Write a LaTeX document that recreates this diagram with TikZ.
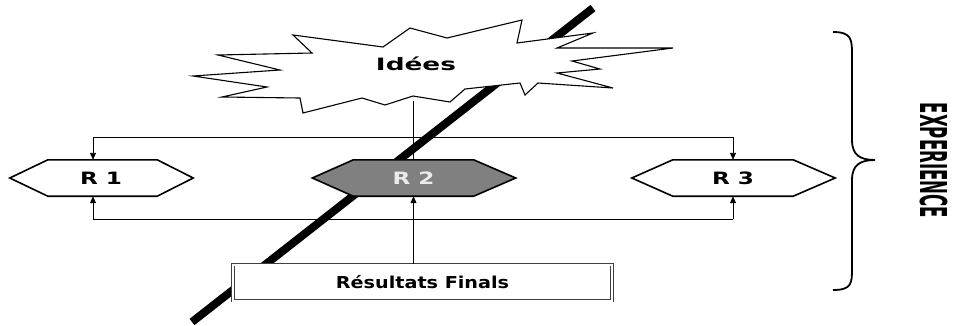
\documentclass[tikz,border=0pt]{standalone}
\usepackage{fontspec}
\setmainfont{DejaVu Sans}
\usetikzlibrary{arrows.meta}
\begin{document}
\begin{tikzpicture}[x=1pt,y=-1pt,
  conn/.style={line width=0.9pt},
  arr/.style={conn,-{Triangle[length=7pt,width=6pt]}},
  hexbox/.style={minimum height=36pt, inner sep=0pt},
  hexline/.style={line width=1.6pt, line join=miter},
  lbl/.style={font=\bfseries\fontsize{17}{20}\selectfont, inner sep=0pt}]
\useasboundingbox (0,0) rectangle (953,325);
% diagonal bar
\coordinate (dA) at (192,322);
\coordinate (dB) at (593,8);
\draw[line width=8pt] (dA) -- (dB);
% invisible frames of the hexagons
\node[hexbox, minimum width=109pt] (R1) at (102.5,178) {};
\node[hexbox, minimum width=120pt] (R2) at (413.5,178) {};
\node[hexbox, minimum width=120pt] (R3) at (733,178) {};
% result box
\node[draw=black!75, double, double distance=2pt, line width=0.6pt, fill=white,
      minimum width=379pt, minimum height=36pt, inner sep=0pt] (res) at (422.5,282.5) {};
% connectors
\coordinate (idb) at (413.5,101);
\coordinate (t1) at (93,137);
\coordinate (t3) at (733,137);
\coordinate (b1) at (93,219);
\coordinate (b3) at (733,219);
\draw[conn] (idb) -- (R2.north);
\draw[conn] (t1) -- (t3);
\draw[arr] (t1) -- (t1 |- R1.north);
\draw[arr] (t3) -- (t3 |- R3.north);
\draw[conn] (b1) -- (b3);
\draw[arr] (b1) -- (b1 |- R1.south);
\draw[arr] (b3) -- (b3 |- R3.south);
\draw[arr] (R2.south |- res.north) -- (R2.south);
% hexagons
\filldraw[hexline, fill=white] (R1.north west) -- (R1.north east) -- ([xshift=36pt]R1.east) -- (R1.south east) -- (R1.south west) -- ([xshift=-38pt]R1.west) -- cycle;
\filldraw[hexline, fill=black!50] (R2.north west) -- (R2.north east) -- ([xshift=42pt]R2.east) -- (R2.south east) -- (R2.south west) -- ([xshift=-41pt]R2.west) -- cycle;
\filldraw[hexline, fill=white] (R3.north west) -- (R3.north east) -- ([xshift=42pt]R3.east) -- (R3.south east) -- (R3.south west) -- ([xshift=-41pt]R3.west) -- cycle;
% starburst
\filldraw[line width=1.1pt, fill=white, line join=miter]
  (293,35) -- (383,47) -- (410,28) -- (447,38) -- (522,20) -- (517,43) -- (593,33) -- (557,48)
  -- (673,48) -- (572,61) -- (600,69) -- (557,73) -- (613,88) -- (538,83) -- (525,95) -- (520,83)
  -- (465,89) -- (450,102) -- (413,96) -- (385,105) -- (362,98) -- (303,113) -- (300,98)
  -- (222,97) -- (267,87) -- (193,76) -- (280,70) -- (218,55) -- (312,53) -- cycle;
% labels
\node[lbl] (ideas) at (416,64) {\scalebox{1.55}[1]{Idées}};
\node[lbl] (R1t) at (101,178) {\scalebox{1.36}[1]{R 1}};
\node[lbl, text=black!8] (R2t) at (413.5,178) {\scalebox{1.36}[1]{R 2}};
\node[lbl] (R3t) at (733,178) {\scalebox{1.36}[1]{R 3}};
\node[font=\bfseries\fontsize{16.4}{19}\selectfont, inner sep=0pt] (rest) at (res) {\scalebox{1.17}[1]{Résultats Finals}};
% brace
\draw[line width=1.8pt] (833,32) .. controls (852,32) and (852,40) .. (852,55) -- (852,140)
  .. controls (852,155) and (860,160) .. (875,160) .. controls (860,160) and (852,165) .. (852,180)
  -- (852,268) .. controls (852,283) and (852,290) .. (833,290);
\node[rotate=-90, font=\bfseries\fontsize{20}{24}\selectfont, inner sep=0pt] (exp) at (933.5,160.5) {\scalebox{0.83}[1.85]{EXPERIENCE}};
\end{tikzpicture}
\end{document}
